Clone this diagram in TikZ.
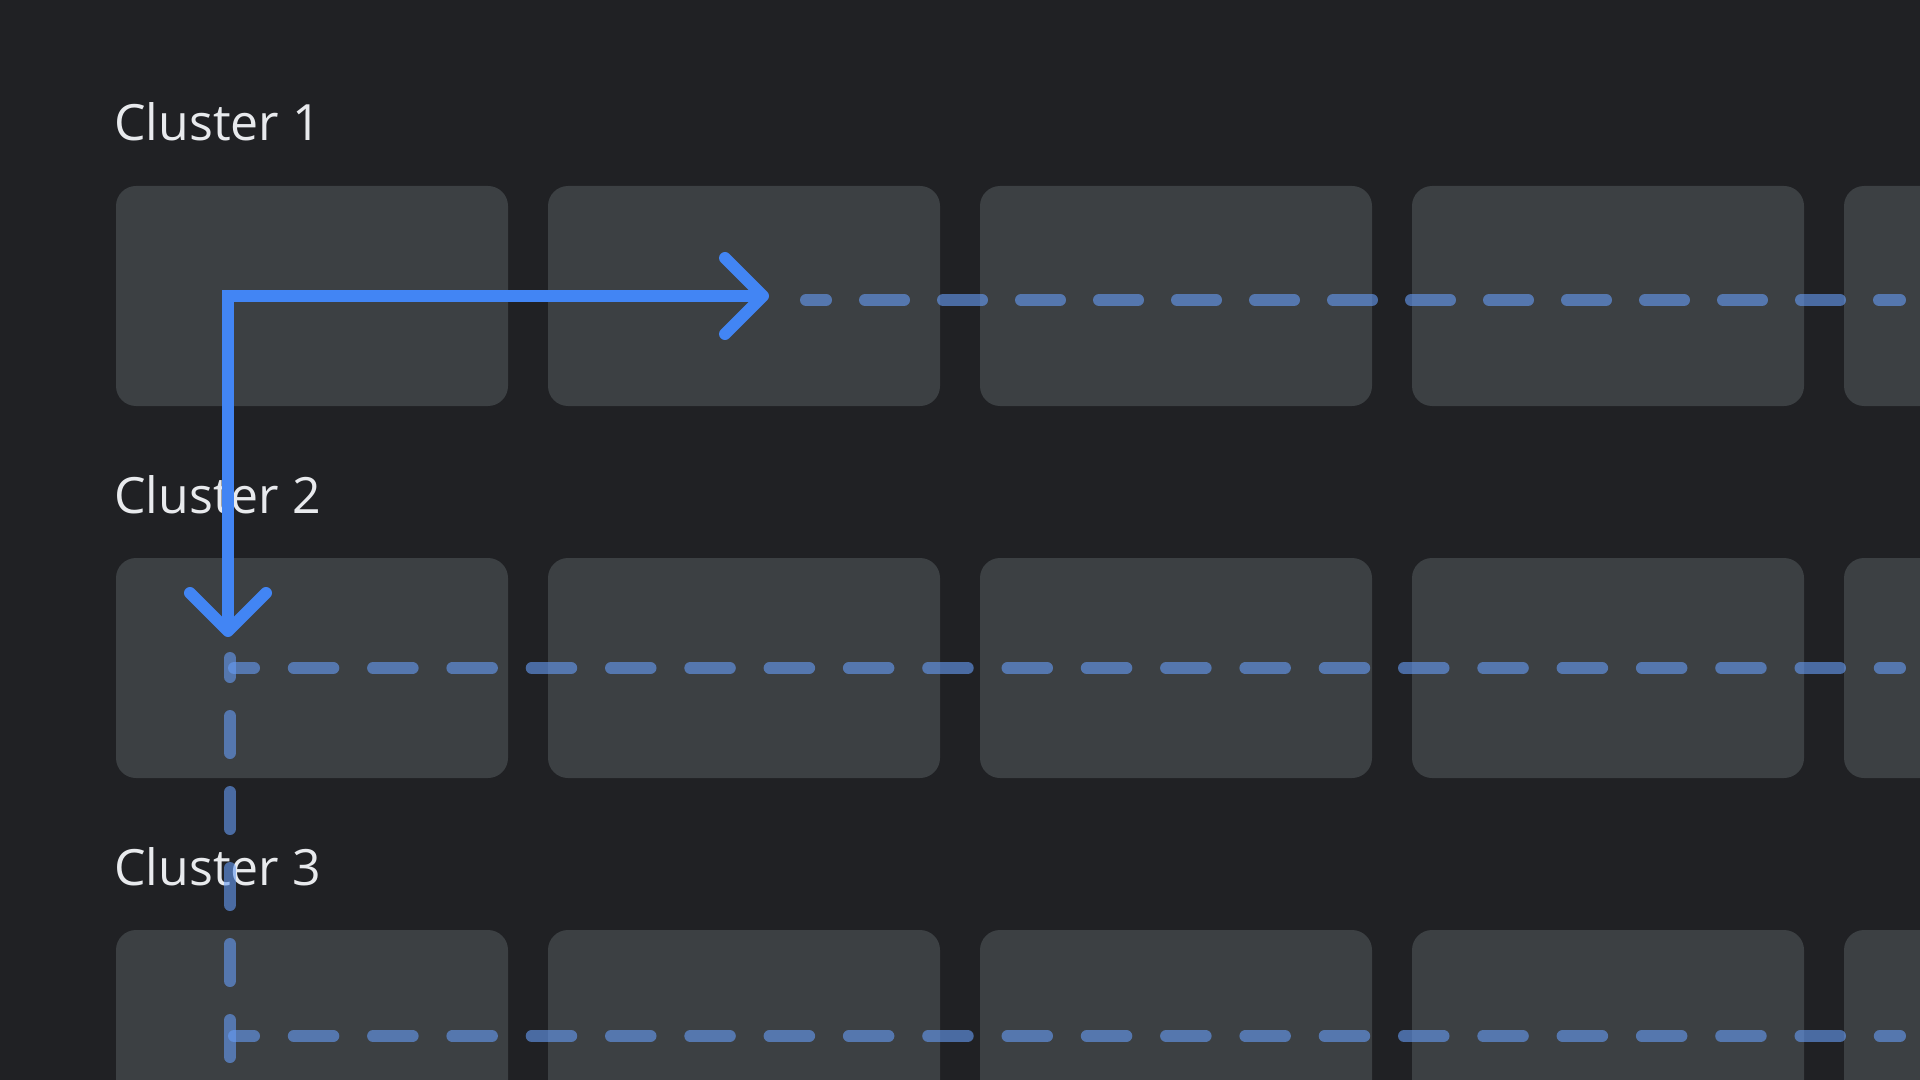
\documentclass[tikz,border=0pt]{standalone}
\usepackage{fontspec}
\setmainfont{Open Sans}
\usetikzlibrary{positioning,arrows.meta}
\definecolor{canvas}{HTML}{202124}
\definecolor{slot}{HTML}{3C4043}
\definecolor{caption}{HTML}{E8EAED}
\definecolor{jumpblue}{HTML}{4285F4}
\definecolor{trailblue}{HTML}{669DF6}
\begin{document}
\begin{tikzpicture}[x=0.5pt, y=-0.5pt,
			node distance=20pt,
			card/.style = {shape=rectangle, fill=slot, rounded corners=10pt, minimum width=196pt, minimum height=110pt, inner sep=0pt, outer sep=0pt, anchor=north west},
			cluster/.style = {text=caption, font=\fontsize{25}{30}\selectfont, inner sep=0pt, anchor=base west},
			trail/.style = {draw=trailblue, draw opacity=0.6, line width=6pt, line cap=round, dash pattern=on 19.75pt off 19.9pt, dash phase=9.75pt},
			lead/.style = {trail, dash pattern=on 19.5pt off 19.5pt, dash phase=9.5pt},
			drop/.style = {trail, dash pattern=on 18.5pt off 19.5pt, dash phase=9pt},
			jump/.style = {draw=jumpblue, line width=6pt, line join=miter,
				arrows={Straight Barb[length=19pt, width=38pt, round]-Straight Barb[length=19pt, width=38pt, round]}}]
			
			\path[use as bounding box, fill=canvas] (0,0) rectangle (1920,1080);
			\clip (0,0) rectangle (1920,1080);
			
			\node[card] (c11) at (116,186) {};
			\node[card, right=of c11] (c12) {};
			\node[card, right=of c12] (c13) {};
			\node[card, right=of c13] (c14) {};
			\node[card, right=of c14] (c15) {};
			\node[card, below=76pt of c11] (c21) {};
			\node[card, right=of c21] (c22) {};
			\node[card, right=of c22] (c23) {};
			\node[card, right=of c23] (c24) {};
			\node[card, right=of c24] (c25) {};
			\node[card, below=76pt of c21] (c31) {};
			\node[card, right=of c31] (c32) {};
			\node[card, right=of c32] (c33) {};
			\node[card, right=of c33] (c34) {};
			\node[card, right=of c34] (c35) {};
			
			\node[cluster] (l1) at (114,141) {Cluster 1};
			\node[cluster] (l2) at (114,513) {Cluster 2};
			\node[cluster] (l3) at (114,885) {Cluster 3};
			
			\coordinate (t1a) at (806,300);
			\coordinate (t1b) at (1900,300);
			\coordinate (t2a) at (234,668);
			\coordinate (t2b) at (1900,668);
			\coordinate (t3a) at (234,1036);
			\coordinate (t3b) at (1900,1036);
			\coordinate (da) at (230,658);
			\coordinate (db) at (230,1057);
			\coordinate (bend) at (228,296);
			\coordinate (hit) at (769,296);
			\coordinate (land) at (228,637);
			
			\draw[lead] (t1a) -- (t1b);
			\draw[trail] (t2a) -- (t2b);
			\draw[trail] (t3a) -- (t3b);
			\draw[drop] (da) -- (db);
			\draw[jump] (hit) -- (bend) -- (land);
			\end{tikzpicture}
\end{document}
